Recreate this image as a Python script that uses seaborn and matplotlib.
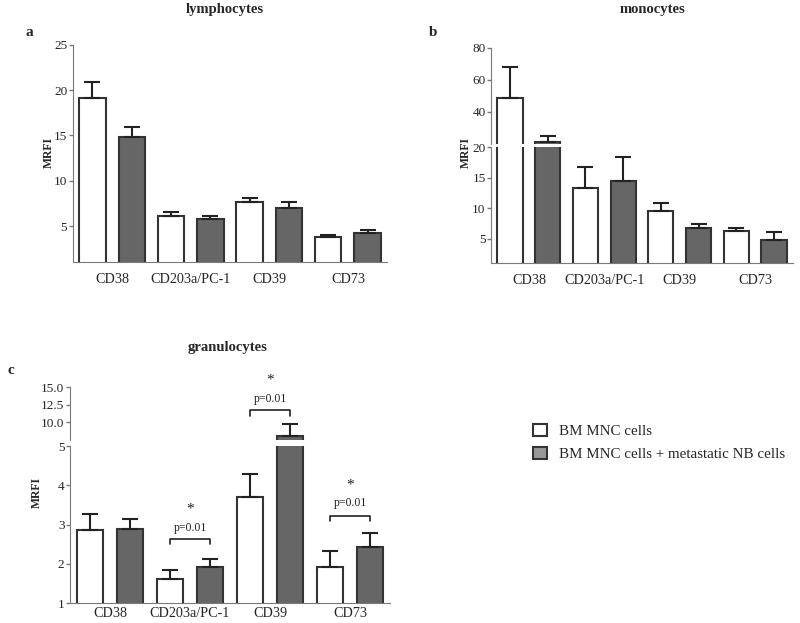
import seaborn as sns
import matplotlib.pyplot as plt
import pandas as pd
from matplotlib.patches import Patch

markers = ["CD38", "CD203a/PC-1", "CD39", "CD73"]
groups = ["BM MNC cells", "BM MNC cells + metastatic NB cells"]

lympho_bm = [19.1, 6.1, 7.6, 3.8]
lympho_bm_err = [1.8, 0.5, 0.5, 0.2]
lympho_nb = [14.8, 5.8, 7.0, 4.2]
lympho_nb_err = [1.1, 0.3, 0.6, 0.4]

mono_bm = [48.8, 13.3, 9.5, 6.2]
mono_bm_err = [19.5, 3.5, 1.3, 0.6]
mono_nb = [21.2, 14.5, 6.8, 4.7]
mono_nb_err = [3.8, 3.8, 0.6, 1.3]

gran_bm = [2.87, 1.62, 3.69, 1.93]
gran_bm_err = [0.39, 0.23, 0.59, 0.40]
gran_nb = [2.88, 1.92, 8.1, 2.44]
gran_nb_err = [0.25, 0.20, 1.7, 0.35]

# significance brackets in panel c: (marker index, bracket y, leg y, text y, star y, upper axis?)
sig_marks = [(1, 2.64, 2.5, 2.9, 3.4, False),
             (2, 11.74, 10.9, 13.3, 16.0, True),
             (3, 3.23, 3.08, 3.54, 4.0, False)]

sns.set_style("white")
plt.rcParams["font.family"] = ["Liberation Serif", "DejaVu Serif"]

bar_colors = ["white", "#666666"]
edge = "#333333"
spine_col = "#7a7a7a"


def make_df(bm, bm_err, nb, nb_err):
    return pd.DataFrame({
        "marker": markers * 2,
        "group": [groups[0]] * 4 + [groups[1]] * 4,
        "value": bm + nb,
        "err": bm_err + nb_err,
    })


def draw_bars(ax, df):
    sns.barplot(data=df, x="marker", y="value", hue="group", hue_order=groups,
                palette=bar_colors, width=1.0, gap=0.33, edgecolor=edge,
                linewidth=1.5, errorbar=None, legend=False, ax=ax)
    # order patches by x so they line up with marker / group order
    bars = sorted(ax.patches, key=lambda p: p.get_x())
    ordered = df.set_index(["marker", "group"])
    centers = []
    for i, p in enumerate(bars):
        row = ordered.loc[(markers[i // 2], groups[i % 2])]
        xc = p.get_x() + p.get_width() / 2
        centers.append(xc)
        ax.errorbar(xc, row["value"], yerr=[[0], [row["err"]]], fmt="none",
                    ecolor="#222222", elinewidth=1.5, capsize=6, capthick=1.5,
                    zorder=1)
    ax.set_xlim(-0.5, 3.5)
    ax.set_xlabel("")
    ax.set_ylabel("")
    return centers


def style_axis(ax, bottom=True, pad=7):
    for s in ["top", "right"]:
        ax.spines[s].set_visible(False)
    ax.spines["left"].set_color(spine_col)
    ax.spines["bottom"].set_color(spine_col)
    ax.tick_params(axis="y", direction="out", length=3, width=1,
                   color=spine_col, labelsize=9.5, pad=1, left=True)
    if bottom:
        ax.tick_params(axis="x", length=0, labelsize=10.2, pad=pad)
    else:
        ax.spines["bottom"].set_visible(False)
        ax.tick_params(axis="x", bottom=False, labelbottom=False)


fig = plt.figure(figsize=(8, 6.23), dpi=100)

# panel a
ax_a = fig.add_axes([0.091, 0.579, 0.393, 0.349])
draw_bars(ax_a, make_df(lympho_bm, lympho_bm_err, lympho_nb, lympho_nb_err))
ax_a.set_ylim(1, 25)
ax_a.set_yticks([5, 10, 15, 20, 25])
style_axis(ax_a, pad=8)

# panel b (broken axis)
df_b = make_df(mono_bm, mono_bm_err, mono_nb, mono_nb_err)
ax_b_lo = fig.add_axes([0.614, 0.578, 0.377, 0.186])
ax_b_hi = fig.add_axes([0.614, 0.769, 0.377, 0.154])
draw_bars(ax_b_lo, df_b)
draw_bars(ax_b_hi, df_b)
ax_b_lo.set_ylim(1, 20)
ax_b_lo.set_yticks([5, 10, 15, 20])
ax_b_hi.set_ylim(20, 80)
ax_b_hi.set_yticks([40, 60, 80])
style_axis(ax_b_lo, pad=8)
style_axis(ax_b_hi, bottom=False)

# panel c (broken axis)
df_c = make_df(gran_bm, gran_bm_err, gran_nb, gran_nb_err)
ax_c_lo = fig.add_axes([0.0875, 0.032, 0.4, 0.252])
ax_c_hi = fig.add_axes([0.0875, 0.2937, 0.4, 0.085])
cent_c = draw_bars(ax_c_lo, df_c)
draw_bars(ax_c_hi, df_c)
ax_c_lo.set_ylim(1, 5)
ax_c_lo.set_yticks([1, 2, 3, 4, 5])
ax_c_hi.set_ylim(7.5, 15)
ax_c_hi.set_yticks([10, 12.5, 15])
ax_c_hi.set_yticklabels(["10.0", "12.5", "15.0"])
style_axis(ax_c_lo, pad=3)
style_axis(ax_c_hi, bottom=False)

for idx, yb, yl, yt, ys, upper in sig_marks:
    ax = ax_c_hi if upper else ax_c_lo
    x0, x1 = cent_c[2 * idx], cent_c[2 * idx + 1]
    ax.plot([x0, x0, x1, x1], [yl, yb, yb, yl], color="#222222", lw=1.2,
            clip_on=False)
    ax.text((x0 + x1) / 2, yt, "p=0.01", ha="center", va="center",
            fontsize=8.5, color="#222222", clip_on=False)
    ax.text((x0 + x1) / 2, ys, "*", ha="center", va="center",
            fontsize=11, color="#222222", clip_on=False)

# titles, panel letters, axis labels
fig.text(225 / 800, 1 - 9 / 623, "lymphocytes", ha="center", va="center",
         fontsize=10.5, fontweight="bold")
fig.text(653 / 800, 1 - 9 / 623, "monocytes", ha="center", va="center",
         fontsize=10.5, fontweight="bold")
fig.text(228 / 800, 1 - 348 / 623, "granulocytes", ha="center", va="center",
         fontsize=10.5, fontweight="bold")
fig.text(29 / 800, 1 - 33 / 623, "a", ha="center", va="center",
         fontsize=11, fontweight="bold")
fig.text(433 / 800, 1 - 33 / 623, "b", ha="center", va="center",
         fontsize=11, fontweight="bold")
fig.text(11 / 800, 1 - 371 / 623, "c", ha="center", va="center",
         fontsize=11, fontweight="bold")
fig.text(49 / 800, 1 - 152 / 623, "MRFI", rotation=90, ha="center",
         va="center", fontsize=8.5, fontweight="bold")
fig.text(466 / 800, 1 - 152 / 623, "MRFI", rotation=90, ha="center",
         va="center", fontsize=8.5, fontweight="bold")
fig.text(37 / 800, 1 - 493 / 623, "MRFI", rotation=90, ha="center",
         va="center", fontsize=8.5, fontweight="bold")

# legend
handles = [Patch(facecolor="white", edgecolor=edge, linewidth=1.5),
           Patch(facecolor="#999999", edgecolor=edge, linewidth=1.5)]
fig.legend(handles, groups, loc="upper left",
           bbox_to_anchor=(533 / 800, 1 - 424 / 623), frameon=False,
           fontsize=10.8, handlelength=0.9, handleheight=0.9,
           handletextpad=0.85, labelspacing=0.55, borderpad=0,
           borderaxespad=0)

fig.savefig("out.png", dpi=100)
